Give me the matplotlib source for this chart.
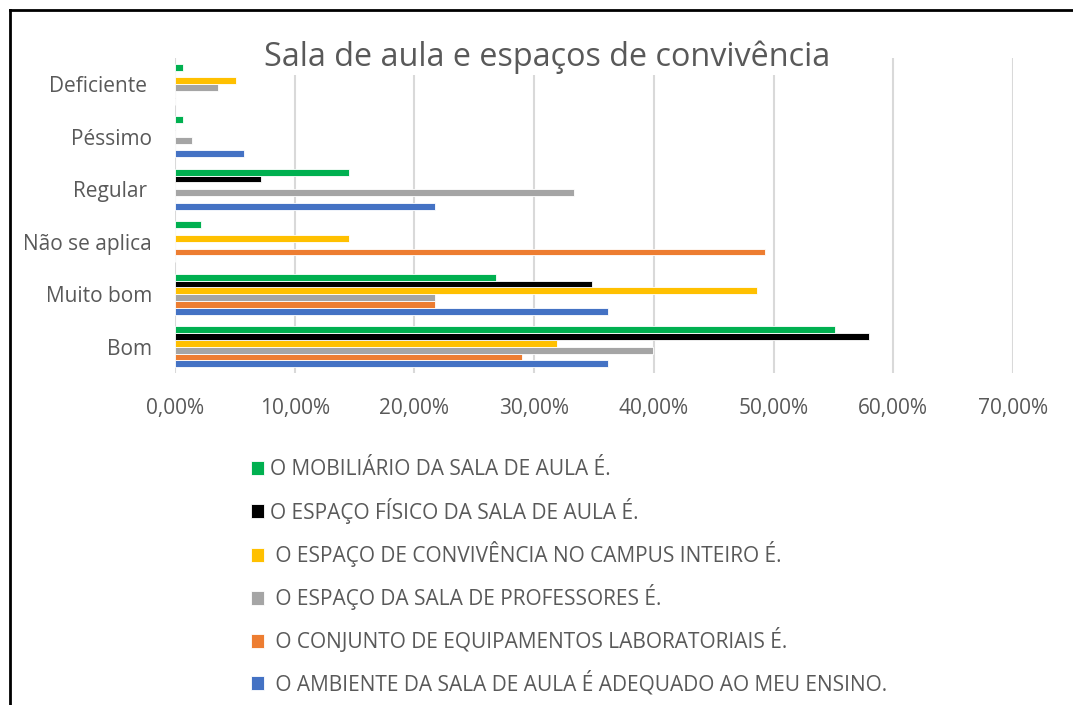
import numpy as np
import matplotlib.pyplot as plt
from matplotlib.lines import Line2D

plt.rcParams['font.family'] = ['Open Sans', 'DejaVu Sans']

categorias = ["Bom", "Muito bom", "Não se aplica", "Regular ", "Péssimo", "Deficiente "]

# valores em %, uma lista por série (ordem das categorias acima)
ambiente = [36.2, 36.2, 0, 21.7, 5.8, 0]
laboratorio = [29.0, 21.7, 49.3, 0, 0, 0]
professores = [39.9, 21.7, 0, 33.3, 1.4, 3.6]
convivencia = [31.9, 48.6, 14.5, 0, 0, 5.1]
espaco_fisico = [58.0, 34.8, 0, 7.2, 0, 0]
mobiliario = [55.1, 26.8, 2.2, 14.5, 0.7, 0.7]

series = [
    (" O AMBIENTE DA SALA DE AULA É ADEQUADO AO MEU ENSINO.", ambiente, "#4472C4"),
    (" O CONJUNTO DE EQUIPAMENTOS LABORATORIAIS É.", laboratorio, "#ED7D31"),
    (" O ESPAÇO DA SALA DE PROFESSORES É.", professores, "#A5A5A5"),
    (" O ESPAÇO DE CONVIVÊNCIA NO CAMPUS INTEIRO É.", convivencia, "#FFC000"),
    ("O ESPAÇO FÍSICO DA SALA DE AULA É.", espaco_fisico, "#000000"),
    ("O MOBILIÁRIO DA SALA DE AULA É.", mobiliario, "#00B050"),
]

texto = "#595959"
fig = plt.figure(figsize=(10.73, 7.05), dpi=100)
ax = fig.add_axes([175 / 1073, 1 - 373 / 705, 838 / 1073, 315 / 705])

y = np.arange(len(categorias))
h = 0.13
barras = []
for j, (nome, vals, cor) in enumerate(series):
    b = ax.barh(y + (j - 2.5) * h, vals, height=h, color=cor,
                edgecolor="white", linewidth=0.6, label=nome, zorder=3)
    barras.append(b)

ax.set_xlim(0, 70)
ax.set_ylim(-0.5, len(categorias) - 0.5)
ax.set_xticks(np.arange(0, 71, 10))
ax.set_xticklabels([f"{v:.2f}%".replace(".", ",") for v in np.arange(0, 71, 10)])
ax.set_yticks(y)
ax.set_yticklabels(categorias)
ax.tick_params(length=0, labelsize=15, colors=texto)
ax.tick_params(axis="x", pad=18)
ax.tick_params(axis="y", pad=16.5)
ax.grid(axis="x", color="#D9D9D9", linewidth=1.5, zorder=0)
for s in ax.spines.values():
    s.set_visible(False)

fig.text(547 / 1073, 1 - 57 / 705, "Sala de aula e espaços de convivência",
         ha="center", va="center", fontsize=23.3, color=texto,
         bbox=dict(facecolor="white", edgecolor="none", pad=1), zorder=5)

ordem = barras[::-1]
fig.legend(ordem, [b.get_label() for b in ordem], loc="upper left",
           bbox_to_anchor=(251 / 1073, 1 - 459 / 705), frameon=False,
           fontsize=15, labelcolor=texto, handlelength=0.64, handleheight=0.64,
           handletextpad=0.25, labelspacing=0.84, borderpad=0, borderaxespad=0)

fig.add_artist(Line2D([10 / 1073, 10 / 1073], [0, 1 - 10 / 705], color="black", linewidth=2))
fig.add_artist(Line2D([10 / 1073, 1], [1 - 10 / 705, 1 - 10 / 705], color="black", linewidth=2))

fig.savefig("out.png", dpi=100)
